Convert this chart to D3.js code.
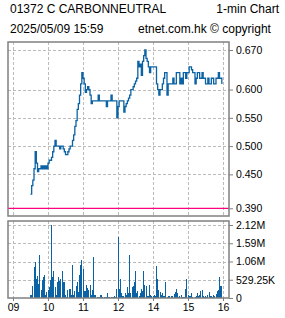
<!DOCTYPE html>
<html>
<head>
<meta charset="utf-8">
<script src="https://cdn.jsdelivr.net/npm/d3@7/dist/d3.min.js"></script>
<style>
body { margin: 0; background: #fff; }
svg { display: block; font-family: "Liberation Sans", Arial, sans-serif; }
.grid { stroke: #bbb; stroke-dasharray: 3,2; stroke-width: 1; }
.frame { fill: none; stroke: #808080; stroke-width: 1.5; }
.axis text { font-size: 10.5px; fill: #000; }
.axis line { stroke: #808080; }
.axis path { display: none; }
</style>
</head>
<body>
<div id="chart"></div>
<script>
var stockName = "01372 C CARBONNEUTRAL",
    chartType = "1-min Chart",
    stamp = "2025/05/09 15:59",
    source = "etnet.com.hk \u00a9 copyright";

var prevClose = 0.39;
var priceTicks = [0.39, 0.45, 0.50, 0.55, 0.60, 0.67];
var hourTicks = [9, 10, 11, 12, 14, 15, 16];
var hourLabels = ["09", "10", "11", "12", "14", "15", "16"];
var volTicks = [0, 529250, 1058500, 1587750, 2117000];
var volLabels = ["0", "529.25K", "1.06M", "1.59M", "2.12M"];

// 2-minute samples, morning from 09:30, afternoon from 13:00
var morningPrice = [
  0.415, 0.430, 0.440, 0.460, 0.490, 0.470, 0.455, 0.460, 0.460, 0.465,
  0.460, 0.465, 0.460, 0.465, 0.460, 0.470, 0.475, 0.475, 0.480, 0.490,
  0.500, 0.510, 0.500, 0.500, 0.500, 0.495, 0.500, 0.500, 0.495, 0.490,
  0.485, 0.485, 0.490, 0.495, 0.500, 0.500, 0.510, 0.520, 0.535, 0.545,
  0.565, 0.575, 0.590, 0.610, 0.630, 0.620, 0.610, 0.595, 0.600, 0.605,
  0.600, 0.590, 0.575, 0.580, 0.580, 0.580, 0.580, 0.580, 0.590, 0.580,
  0.580, 0.580, 0.580, 0.580, 0.580, 0.570, 0.580, 0.580, 0.580, 0.590,
  0.580, 0.580, 0.580, 0.580, 0.550
];
var afternoonPrice = [
  0.570, 0.580, 0.580, 0.580, 0.580, 0.560, 0.570, 0.575, 0.580, 0.585,
  0.590, 0.600, 0.600, 0.605, 0.610, 0.615, 0.620, 0.650, 0.640, 0.645,
  0.625, 0.650, 0.660, 0.670, 0.655, 0.650, 0.640, 0.630, 0.640, 0.640,
  0.640, 0.640, 0.640, 0.610, 0.600, 0.590, 0.600, 0.600, 0.610, 0.620,
  0.630, 0.630, 0.590, 0.610, 0.610, 0.610, 0.610, 0.620, 0.610, 0.610,
  0.630, 0.630, 0.630, 0.610, 0.620, 0.610, 0.630, 0.630, 0.620, 0.630,
  0.630, 0.640, 0.640, 0.635, 0.630, 0.630, 0.610, 0.620, 0.630, 0.630,
  0.620, 0.620, 0.630, 0.620, 0.620, 0.610, 0.610, 0.620, 0.610, 0.610,
  0.620, 0.620, 0.610, 0.610, 0.620, 0.620, 0.630, 0.620, 0.620, 0.610
];
// volume in thousands of shares
var morningVol = [
  80, 95, 340, 885, 1050, 545, 640, 420, 1260, 225,
  515, 610, 660, 80, 175, 225, 320, 515, 2110, 610,
  780, 320, 80, 465, 610, 485, 565, 780, 465, 465,
  80, 30, 225, 250, 250, 80, 950, 80, 195, 350,
  465, 175, 660, 950, 1115, 855, 195, 195, 370, 290,
  225, 370, 80, 225, 1195, 80, 95, 40, 30, 30,
  95, 80, 20, 20, 20, 30, 145, 40, 20, 40,
  20, 20, 60, 20, 250
];
var afternoonVol = [
  1770, 250, 550, 150, 50, 50, 150, 100, 330, 150,
  1250, 150, 330, 350, 450, 770, 150, 200, 50, 150,
  250, 200, 770, 370, 350, 70, 50, 370, 100, 50,
  70, 100, 70, 920, 550, 230, 170, 100, 150, 70,
  70, 470, 30, 70, 70, 10, 70, 50, 130, 170,
  250, 150, 20, 50, 100, 20, 30, 20, 250, 550,
  100, 50, 70, 150, 30, 10, 20, 70, 150, 70,
  100, 200, 230, 70, 20, 50, 30, 100, 170, 70,
  50, 20, 100, 70, 130, 200, 230, 600, 350, 350
];

var width = 285, height = 318;
var plotLeft = 8, plotRight = 229,
    priceTop = 42, priceBottom = 216,
    volTop = 221, volBottom = 298;

var blue = "#0b63a5";

var data = [];
morningPrice.forEach(function(p, i) {
  data.push({ t: 9.5 + i * 2 / 60, price: p, vol: morningVol[i] * 1000 });
});
afternoonPrice.forEach(function(p, i) {
  data.push({ t: 13 + i * 2 / 60, price: p, vol: afternoonVol[i] * 1000 });
});

// lunch break is squeezed out of the axis
function session(h) { return h >= 13 ? h - 1 : h; }

var x = d3.scaleLinear().domain([9, 15]).range([13, 223]);
var y = d3.scaleLinear().domain([0.3764, 0.6841]).range([priceBottom, priceTop]);
var yv = d3.scaleLinear().domain([0, 2233000]).range([volBottom, volTop]);

var svg = d3.select("#chart").append("svg")
    .attr("width", width)
    .attr("height", height);

svg.append("text").attr("x", 10).attr("y", 13).style("font-size", "12px").text(stockName);
svg.append("text").attr("x", 279).attr("y", 13).attr("text-anchor", "end").style("font-size", "12px").text(chartType);
svg.append("text").attr("x", 10).attr("y", 33).style("font-size", "12px").text(stamp);
svg.append("text").attr("x", 138).attr("y", 33).style("font-size", "12px").text(source);

// grids
var gp = svg.append("g");
gp.selectAll(".vx").data(hourTicks).enter().append("line")
    .attr("class", "grid")
    .attr("x1", function(d) { return Math.round(x(session(d))) + 0.5; })
    .attr("x2", function(d) { return Math.round(x(session(d))) + 0.5; })
    .attr("y1", priceTop).attr("y2", priceBottom);
gp.selectAll(".hy").data(priceTicks.filter(function(d) { return d != prevClose; })).enter().append("line")
    .attr("class", "grid")
    .attr("x1", plotLeft).attr("x2", plotRight)
    .attr("y1", function(d) { return Math.round(y(d)) + 0.5; })
    .attr("y2", function(d) { return Math.round(y(d)) + 0.5; });

var gv = svg.append("g");
gv.selectAll(".vx").data(hourTicks).enter().append("line")
    .attr("class", "grid")
    .attr("x1", function(d) { return Math.round(x(session(d))) + 0.5; })
    .attr("x2", function(d) { return Math.round(x(session(d))) + 0.5; })
    .attr("y1", volTop).attr("y2", volBottom);
gv.selectAll(".hy").data(volTicks.slice(1)).enter().append("line")
    .attr("class", "grid")
    .attr("x1", plotLeft).attr("x2", plotRight)
    .attr("y1", function(d) { return Math.round(yv(d)) + 0.5; })
    .attr("y2", function(d) { return Math.round(yv(d)) + 0.5; });

// previous close
svg.append("line")
    .attr("x1", plotLeft).attr("x2", plotRight)
    .attr("y1", y(prevClose)).attr("y2", y(prevClose))
    .style("stroke", "#ff0080").style("stroke-width", 1.3);

// price
var line = d3.line()
    .x(function(d) { return x(session(d.t)); })
    .y(function(d) { return y(d.price); })
    .curve(d3.curveStepAfter);

svg.append("path")
    .datum(data)
    .attr("d", line)
    .style("fill", "none")
    .style("stroke", blue)
    .style("stroke-width", 1.3);

// volume
svg.selectAll(".bar").data(data).enter().append("rect")
    .attr("class", "bar")
    .attr("x", function(d) { return x(session(d.t)) - 0.5; })
    .attr("width", 1)
    .attr("y", function(d) { return yv(d.vol); })
    .attr("height", function(d) { return volBottom - yv(d.vol); })
    .attr("shape-rendering", "crispEdges")
    .style("fill", blue);

// frames
svg.append("rect").attr("class", "frame")
    .attr("x", plotLeft).attr("y", priceTop)
    .attr("width", plotRight - plotLeft).attr("height", priceBottom - priceTop);
svg.append("rect").attr("class", "frame")
    .attr("x", plotLeft).attr("y", volTop)
    .attr("width", plotRight - plotLeft).attr("height", volBottom - volTop);

// axes
svg.append("g").attr("class", "axis")
    .attr("transform", "translate(" + plotRight + ",0)")
    .call(d3.axisRight(y).tickValues(priceTicks).tickSize(4).tickPadding(3)
      .tickFormat(d3.format(".3f")));

svg.append("g").attr("class", "axis")
    .attr("transform", "translate(" + plotRight + ",0)")
    .call(d3.axisRight(yv).tickValues(volTicks).tickSize(4).tickPadding(3)
      .tickFormat(function(d, i) { return volLabels[i]; }));

svg.append("g").attr("class", "axis")
    .attr("transform", "translate(0," + volBottom + ")")
    .call(d3.axisBottom(x).tickValues(hourTicks.map(session)).tickSize(3).tickPadding(3)
      .tickFormat(function(d, i) { return hourLabels[i]; }));
</script>
</body>
</html>
